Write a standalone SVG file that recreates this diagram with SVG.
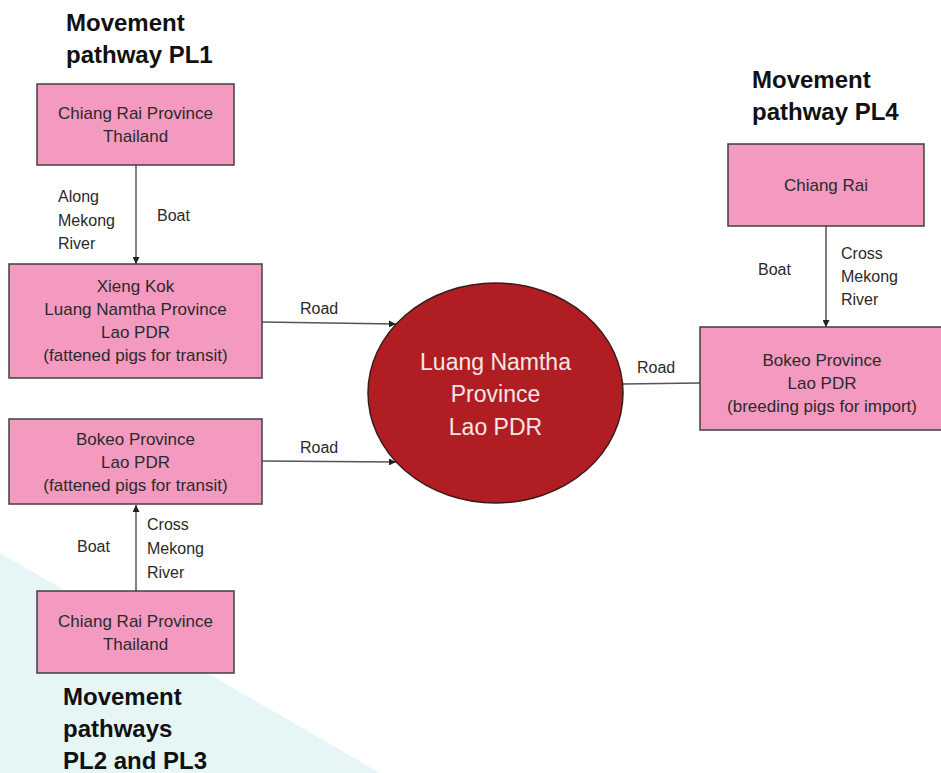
<svg xmlns="http://www.w3.org/2000/svg" width="941" height="773" viewBox="0 0 941 773">
<defs>
<style>
.box{fill:#f49ac1;stroke:#404040;stroke-width:1.5}
.bt{font-family:"Liberation Sans",Arial,sans-serif;font-size:17px;fill:#2a2a2a;text-anchor:middle}
.lb{font-family:"Liberation Sans",Arial,sans-serif;font-size:16px;fill:#2a2a2a}
.ttl{font-family:"Liberation Sans",Arial,sans-serif;font-size:24px;font-weight:bold;fill:#111}
.ct{font-family:"Liberation Sans",Arial,sans-serif;font-size:23px;fill:#f6e6e6;text-anchor:middle}
.ln{stroke:#555;stroke-width:1.5;fill:none}
</style>
<marker id="ah" viewBox="0 0 10 10" refX="10" refY="5" markerWidth="7" markerHeight="7" markerUnits="userSpaceOnUse" orient="auto">
<path d="M0,0 L10,5 L0,10 z" fill="#222"/>
</marker>
</defs>
<rect width="941" height="773" fill="#ffffff"/>
<polygon points="0,553 380,773 0,773" fill="#e6f6f7"/>

<g id="connectors">
<line class="ln" x1="136" y1="165" x2="136" y2="264" marker-end="url(#ah)"/>
<line class="ln" x1="136" y1="591" x2="136" y2="505" marker-end="url(#ah)"/>
<line class="ln" x1="262" y1="322" x2="396" y2="324" marker-end="url(#ah)"/>
<line class="ln" x1="262" y1="461" x2="396" y2="462" marker-end="url(#ah)"/>
<line class="ln" x1="623" y1="384" x2="700" y2="383"/>
<line class="ln" x1="826" y1="226" x2="826" y2="327" marker-end="url(#ah)"/>
<text class="lb" x="58" y="202">Along</text>
<text class="lb" x="58" y="226">Mekong</text>
<text class="lb" x="58" y="249">River</text>
<text class="lb" x="157" y="221">Boat</text>
<text class="lb" x="300" y="314">Road</text>
<text class="lb" x="300" y="453">Road</text>
<text class="lb" x="77" y="552">Boat</text>
<text class="lb" x="147" y="530">Cross</text>
<text class="lb" x="147" y="554">Mekong</text>
<text class="lb" x="147" y="578">River</text>
<text class="lb" x="637" y="373">Road</text>
<text class="lb" x="758" y="275">Boat</text>
<text class="lb" x="841" y="259">Cross</text>
<text class="lb" x="841" y="282">Mekong</text>
<text class="lb" x="841" y="305">River</text>
</g>

<g id="title-pl1">
<text class="ttl" x="66" y="31">Movement</text>
<text class="ttl" x="66" y="63">pathway PL1</text>
</g>
<g id="title-pl4">
<text class="ttl" x="752" y="88">Movement</text>
<text class="ttl" x="752" y="120">pathway PL4</text>
</g>
<g id="title-pl23">
<text class="ttl" x="63" y="705">Movement</text>
<text class="ttl" x="63" y="737">pathways</text>
<text class="ttl" x="63" y="769">PL2 and PL3</text>
</g>

<g id="chiang-rai-pl1">
<rect class="box" x="37" y="84" width="197" height="81"/>
<text class="bt" x="135.5" y="119">Chiang Rai Province</text>
<text class="bt" x="135.5" y="142">Thailand</text>
</g>
<g id="xieng-kok">
<rect class="box" x="9" y="264" width="253" height="114"/>
<text class="bt" x="135.5" y="292">Xieng Kok</text>
<text class="bt" x="135.5" y="315">Luang Namtha Province</text>
<text class="bt" x="135.5" y="338">Lao PDR</text>
<text class="bt" x="135.5" y="361">(fattened pigs for transit)</text>
</g>
<g id="bokeo-transit">
<rect class="box" x="9" y="419" width="253" height="85"/>
<text class="bt" x="135.5" y="445">Bokeo Province</text>
<text class="bt" x="135.5" y="468">Lao PDR</text>
<text class="bt" x="135.5" y="491">(fattened pigs for transit)</text>
</g>
<g id="chiang-rai-pl23">
<rect class="box" x="37" y="591" width="197" height="82"/>
<text class="bt" x="135.5" y="627">Chiang Rai Province</text>
<text class="bt" x="135.5" y="650">Thailand</text>
</g>
<g id="luang-namtha">
<ellipse cx="495.5" cy="393" rx="127.5" ry="110" fill="#b01e24" stroke="#3a1a1a" stroke-width="1.5"/>
<text class="ct" x="495.5" y="370">Luang Namtha</text>
<text class="ct" x="495.5" y="402">Province</text>
<text class="ct" x="495.5" y="435">Lao PDR</text>
</g>
<g id="chiang-rai-pl4">
<rect class="box" x="728" y="144" width="196" height="82"/>
<text class="bt" x="826" y="191">Chiang Rai</text>
</g>
<g id="bokeo-import">
<rect class="box" x="700" y="327" width="250" height="103"/>
<text class="bt" x="822" y="366">Bokeo Province</text>
<text class="bt" x="822" y="389">Lao PDR</text>
<text class="bt" x="822" y="412">(breeding  pigs for import)</text>
</g>
</svg>
